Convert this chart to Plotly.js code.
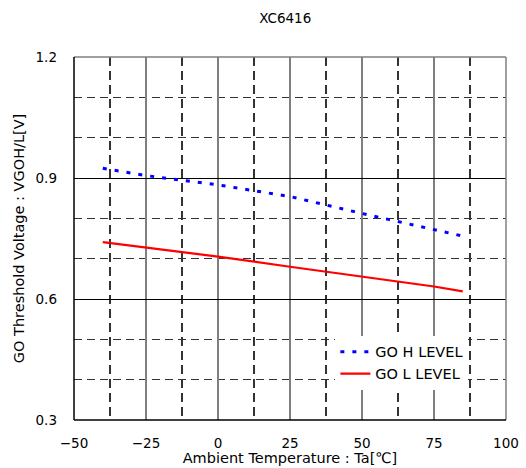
<!DOCTYPE html>
<html>
<head>
<meta charset="utf-8">
<script src="https://cdn.plot.ly/plotly-3.0.1.min.js"></script>
<style>html,body{margin:0;padding:0;background:#fff;}#chart{width:526px;height:468px;}</style>
</head>
<body>
<div id="chart"></div>
<script>
var temps = [-40, -25, 0, 25, 50, 75, 85];
var goHLevel = [0.924, 0.906, 0.883, 0.854, 0.812, 0.771, 0.756];
var goLLevel = [0.741, 0.728, 0.705, 0.680, 0.655, 0.631, 0.619];
var seriesNames = ['GO H LEVEL', 'GO L LEVEL'];
var xTicks = [-50, -25, 0, 25, 50, 75, 100];
var xMinorTicks = [-37.5, -12.5, 12.5, 37.5, 62.5, 87.5];
var yTicks = [0.3, 0.6, 0.9, 1.2];
var yTickText = ['0.3', '0.6', '0.9', '1.2'];
var yMinorTicks = [0.4, 0.5, 0.7, 0.8, 1.0, 1.1];

var font = 'DejaVu Sans, Noto Sans CJK JP, sans-serif';

var traces = [
  {x: temps, y: goHLevel, name: seriesNames[0], mode: 'lines', line: {color: '#0000ff', width: 3, dash: '4px,8px'}},
  {x: temps, y: goLLevel, name: seriesNames[1], mode: 'lines', line: {color: '#ff0000', width: 2.2}}
];

var layout = {
  width: 526, height: 468,
  margin: {l: 74, r: 20, t: 57, b: 48},
  paper_bgcolor: '#fff', plot_bgcolor: '#fff',
  font: {family: font, size: 13, color: '#000'},
  title: {text: 'XC6416', x: 0.489, xref: 'paper', y: 0.962, yanchor: 'middle', font: {size: 13.5, family: font}},
  showlegend: true,
  legend: {x: 0.605, y: 0.232, xanchor: 'left', yanchor: 'top', bgcolor: '#fff', borderwidth: 0, font: {size: 14.5}},
  xaxis: {
    range: [-50, 100], tickvals: xTicks, ticks: '', showline: false, zeroline: false,
    showgrid: true, gridcolor: '#7f7f7f', gridwidth: 1.5,
    minor: {tickvals: xMinorTicks, showgrid: true, gridcolor: '#333', griddash: '9px,5px', gridwidth: 1.3},
    ticklabelstandoff: 13,
    title: {text: 'Ambient Temperature : Ta[℃]', standoff: 1, font: {size: 14.5}},
    tickfont: {size: 13.5}
  },
  yaxis: {
    range: [0.3, 1.2], tickvals: yTicks, ticktext: yTickText, ticks: '', showline: false, zeroline: false,
    showgrid: true, gridcolor: '#000', gridwidth: 1,
    minor: {tickvals: yMinorTicks, showgrid: true, gridcolor: '#333', griddash: '8px,5px', gridwidth: 1.3},
    ticklabelstandoff: 16,
    title: {text: 'GO Threshold Voltage : VGOH/L[V]', standoff: 7, font: {size: 14.5}},
    tickfont: {size: 13.5}
  },
  shapes: [
    {type: 'line', xref: 'paper', yref: 'paper', x0: 0, x1: 1, y0: 1, y1: 1, line: {color: '#7f7f7f', width: 1.5}},
    {type: 'line', xref: 'paper', yref: 'paper', x0: 1, x1: 1, y0: 0, y1: 1, line: {color: '#7f7f7f', width: 1.5}},
    {type: 'line', xref: 'paper', yref: 'paper', x0: 0, x1: 0, y0: 0, y1: 1, line: {color: '#000', width: 1.5}},
    {type: 'line', xref: 'paper', yref: 'paper', x0: 0, x1: 1, y0: 0, y1: 0, line: {color: '#000', width: 1.5}}
  ]
};

Plotly.newPlot('chart', traces, layout, {displayModeBar: false, staticPlot: true});
</script>
</body>
</html>
